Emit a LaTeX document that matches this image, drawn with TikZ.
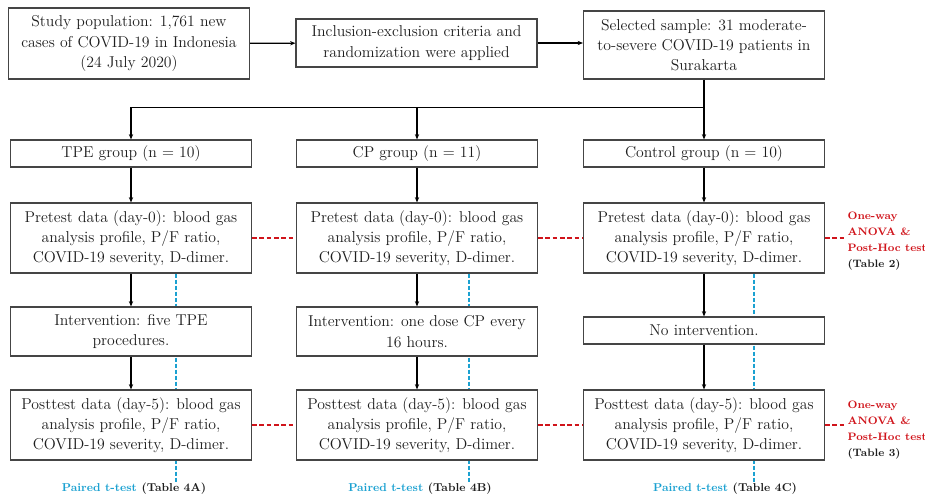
\documentclass[tikz,border=0pt]{standalone}
\usetikzlibrary{arrows.meta,calc,positioning,backgrounds}
\definecolor{FlowInk}{HTML}{1E1E1E}
\definecolor{FlowEdge}{HTML}{454545}
\definecolor{PairBlue}{HTML}{1BA1D1}
\definecolor{TestRed}{HTML}{D0141B}
\tikzset{
  every node/.style={text=FlowInk},
  flowbox/.style={draw=FlowEdge, line width=0.8pt, fill=white, minimum width=180.75pt,
    align=center, inner sep=2pt, font=\fontsize{11.8}{15.2}\selectfont},
  flow/.style={-{Stealth[length=4pt,width=3.2pt]}, draw=black, line width=1pt},
  pairline/.style={draw=PairBlue, line width=1pt, dash pattern=on 3pt off 1.5pt},
  groupline/.style={draw=TestRed, line width=1pt, dash pattern=on 3.5pt off 2pt},
  pairlabel/.style={font=\bfseries\fontsize{8.6}{12}\selectfont, inner sep=1pt},
  testlabel/.style={font=\bfseries\fontsize{8.1}{12}\selectfont, align=left, anchor=west, inner sep=1pt},
}

\begin{document}
\begin{tikzpicture}[x=0.75pt,y=-0.75pt]
  \useasboundingbox (0,0) rectangle (925,499);

  % Recruitment row
  \node[flowbox, minimum height=53.25pt] (study) at (129,43.5) {Study population: 1,761 new\\cases of COVID-19 in Indonesia\\(24 July 2020)};
  \node[flowbox, minimum height=36pt] (incl) at (416.5,43) {Inclusion-exclusion criteria and\\randomization were applied};
  \node[flowbox, minimum height=51pt] (sel) at (704,45) {Selected sample: 31 moderate-\\to-severe COVID-19 patients in\\Surakarta};
  \draw[flow] (study) -- (incl);
  \draw[flow] (incl.east) -- (incl.east -| sel.west);

  % Groups
  \node[flowbox, minimum height=20.25pt] (tpe) at (131,153.5) {TPE group (n = 10)};
  \node[flowbox, minimum height=20.25pt] (cp) at (417,153.5) {CP group (n = 11)};
  \node[flowbox, minimum height=20.25pt] (ctrl) at (704,153.5) {Control group (n = 10)};
  \coordinate (split) at ($(sel.south)+(0,28)$);
  \draw[flow] (sel.south) -- (ctrl.north);
  \draw[flow] (split) -| (tpe.north);
  \draw[flow] (split -| cp.north) -- (cp.north);

  % Pretest data
  \node[flowbox, minimum height=52.5pt] (pre1) at (131,238) {Pretest data (day-0): blood gas\\analysis profile, P/F ratio,\\COVID-19 severity, D-dimer.};
  \node[flowbox, minimum height=52.5pt] (pre2) at (417,238) {Pretest data (day-0): blood gas\\analysis profile, P/F ratio,\\COVID-19 severity, D-dimer.};
  \node[flowbox, minimum height=52.5pt] (pre3) at (704,238) {Pretest data (day-0): blood gas\\analysis profile, P/F ratio,\\COVID-19 severity, D-dimer.};
  \draw[flow] (tpe) -- (pre1);
  \draw[flow] (cp) -- (pre2);
  \draw[flow] (ctrl) -- (pre3);

  % Interventions
  \node[flowbox, minimum height=36.75pt] (int1) at (131,331.5) {Intervention: five TPE\\procedures.};
  \node[flowbox, minimum height=36.75pt] (int2) at (417,331.5) {Intervention: one dose CP every\\16 hours.};
  \node[flowbox, minimum height=20.25pt] (int3) at (704,330.5) {No intervention.};
  \draw[flow] (pre1) -- (int1);
  \draw[flow] (pre2) -- (int2);
  \draw[flow] (pre3) -- (int3);

  % Posttest data
  \node[flowbox, minimum height=52.5pt] (post1) at (131,425) {Posttest data (day-5): blood gas\\analysis profile, P/F ratio,\\COVID-19 severity, D-dimer.};
  \node[flowbox, minimum height=52.5pt] (post2) at (417,425) {Posttest data (day-5): blood gas\\analysis profile, P/F ratio,\\COVID-19 severity, D-dimer.};
  \node[flowbox, minimum height=52.5pt] (post3) at (704,425) {Posttest data (day-5): blood gas\\analysis profile, P/F ratio,\\COVID-19 severity, D-dimer.};
  \draw[flow] (int1) -- (post1);
  \draw[flow] (int2) -- (post2);
  \draw[flow] (int3) -- (post3);

  % Between-group tests
  \node[testlabel] (anova1) at (846,241) {\textcolor{TestRed}{One-way}\\\textcolor{TestRed}{ANOVA \&}\\\textcolor{TestRed}{Post-Hoc test}\\(Table 2)};
  \node[testlabel] (anova2) at (846,430) {\textcolor{TestRed}{One-way}\\\textcolor{TestRed}{ANOVA \&}\\\textcolor{TestRed}{Post-Hoc test}\\(Table 3)};
  \draw[groupline] (pre1) -- (pre2);
  \draw[groupline] (pre2) -- (pre3);
  \draw[groupline] (pre3.east) -- (pre3.east -| anova1.west);
  \draw[groupline] (post1) -- (post2);
  \draw[groupline] (post2) -- (post3);
  \draw[groupline] (post3.east) -- (post3.east -| anova2.west);

  % Within-group paired tests
  \node[pairlabel] (pair1) at (134,489) {\textcolor{PairBlue}{Paired t-test} (Table 4A)};
  \node[pairlabel] (pair2) at (420,489) {\textcolor{PairBlue}{Paired t-test} (Table 4B)};
  \node[pairlabel] (pair3) at (725,489) {\textcolor{PairBlue}{Paired t-test} (Table 4C)};
  \coordinate (b1) at ($(pre1.south)+(45,0)$);
  \coordinate (b2) at ($(pre2.south)+(52,0)$);
  \coordinate (b3) at ($(pre3.south)+(50,0)$);
  \begin{scope}[on background layer]
    \draw[pairline] (b1) -- (b1 |- pair1.north);
    \draw[pairline] (b2) -- (b2 |- pair2.north);
    \draw[pairline] (b3) -- (b3 |- pair3.north);
  \end{scope}
\end{tikzpicture}
\end{document}
